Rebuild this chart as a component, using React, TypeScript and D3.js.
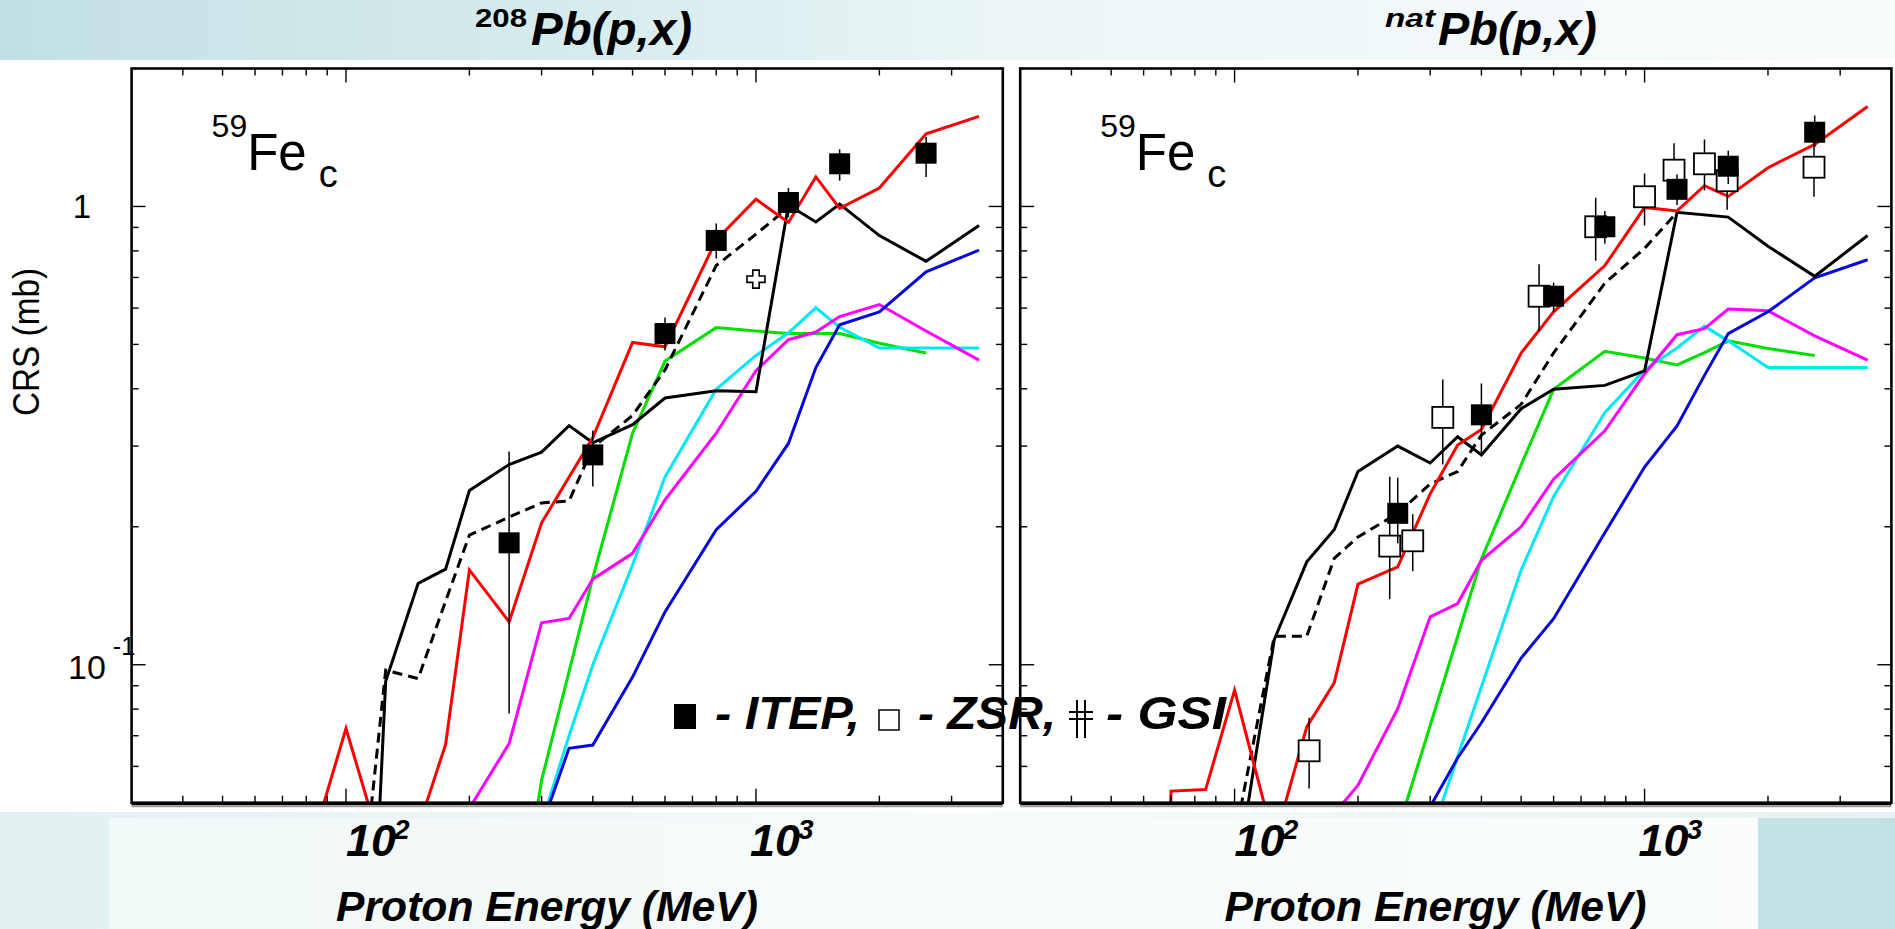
import React from 'react';
import * as d3 from 'd3';

// ---------------- data ----------------
const MODEL_E = [60, 70, 80, 85, 100, 125, 150, 175, 200, 250, 300, 350, 400, 500, 600, 800, 1000, 1200, 1400, 1600, 2000, 2600, 3500];

// 208Pb(p,x) model curves (null = not computed at that energy)
const RED_L = [null, null, 0.037, null, 0.0726, 0.037, 0.044, 0.067, 0.161, 0.124, 0.204, null, 0.313, 0.505, 0.494, 0.845, 1.037, 0.923, 1.16, 0.99, 1.097, 1.44, 1.573];
const BLACK_L = [null, null, null, null, 0.0014, 0.092, 0.1505, 0.1617, 0.24, 0.2735, 0.291, 0.3325, 0.305, 0.334, 0.382, 0.396, 0.394, 1.007, 0.925, 1.012, 0.864, 0.759, 0.909];
const DASHED_L = [null, null, null, null, 0.0148, 0.0973, 0.0933, 0.1377, 0.1918, 0.21, 0.2255, 0.2276, 0.298, 0.35, 0.44, 0.743, 0.87, 0.995, null, null, null, null, null];
const GREEN_L = [null, null, null, null, null, null, null, null, null, 0.02, 0.056, null, 0.155, 0.32, 0.46, 0.544, 0.535, 0.528, 0.528, 0.528, 0.503, 0.479, null];
const CYAN_L = [null, null, null, null, null, null, null, null, null, null, 0.045, 0.07, 0.1, 0.165, 0.257, 0.399, 0.473, 0.53, 0.601, 0.545, 0.491, 0.491, 0.491];
const MAGENTA_L = [null, null, null, null, null, null, null, null, 0.0486, 0.0673, 0.1235, 0.1262, 0.1537, 0.175, 0.229, 0.32, 0.438, 0.512, 0.532, 0.575, 0.611, 0.535, 0.462];
const BLUE_L = [null, null, null, null, null, null, null, null, null, null, 0.0444, 0.0657, 0.0668, 0.094, 0.1304, 0.197, 0.239, 0.304, 0.445, 0.552, 0.589, 0.72, 0.803];

// natPb(p,x) model curves
const RED_R = [0.001, 0.053, null, 0.0534, 0.088, 0.041, 0.0732, 0.0913, 0.15, 0.1636, 0.236, 0.3015, 0.326, 0.479, 0.589, 0.743, 0.995, 0.978, 1.11, 1.052, 1.215, 1.366, 1.652];
const BLACK_R = [null, null, null, null, 0.0325, 0.1135, 0.1677, 0.197, 0.264, 0.3, 0.2755, 0.3145, 0.287, 0.362, 0.399, 0.407, 0.4375, 0.971, null, 0.948, 0.819, 0.704, 0.864];
const DASHED_R = [null, null, null, null, 0.0417, 0.1154, 0.1154, 0.1706, 0.19, 0.214, 0.248, 0.264, 0.317, 0.37, 0.479, 0.68, 0.81, 0.971, null, null, null, null, null];
const GREEN_R = [null, null, null, null, null, null, null, null, null, 0.0435, 0.0737, null, 0.17, 0.273, 0.399, 0.483, 0.467, 0.451, 0.48, 0.509, 0.49, 0.473, null];
const CYAN_R = [null, null, null, null, null, null, null, null, null, null, 0.0419, 0.063, 0.0895, 0.161, 0.233, 0.355, 0.44, 0.491, 0.548, 0.509, 0.445, 0.445, 0.445];
const MAGENTA_R = [null, null, null, null, null, null, null, 0.0473, 0.0546, 0.0802, 0.1272, 0.136, 0.169, 0.2, 0.254, 0.324, 0.431, 0.525, 0.541, 0.597, 0.592, 0.522, 0.462];
const BLUE_R = [null, null, null, null, null, null, null, null, null, null, 0.049, 0.0626, 0.0747, 0.1034, 0.126, 0.194, 0.27, 0.332, 0.428, 0.528, 0.589, 0.699, 0.765];

// experimental data
const ITEP_E = [250, 400, 600, 800, 1200, 1600, 2600];
const ITEP_L = [0.1845, 0.287, 0.528, 0.843, 1.02, 1.239, 1.307];
const ITEP_L_LO = [0.0783, 0.245, 0.485, 0.77, 0.948, 1.138, 1.16];
const ITEP_L_HI = [0.292, 0.3245, 0.5724, 0.918, 1.097, 1.333, 1.417];
const ITEP_R = [0.214, 0.351, 0.637, 0.903, 1.09, 1.224, 1.452];
const ITEP_R_LO = [0.184, 0.29, 0.589, 0.829, 1.007, 1.12, 1.349];
const ITEP_R_HI = [0.256, 0.411, 0.682, 0.978, 1.174, 1.323, 1.58];

const ZSR_E = [152, 239, 272, 322, 553, 760, 1000, 1180, 1400, 1590, 2590];
const ZSR_R = [0.0649, 0.1815, 0.1864, 0.3465, 0.637, 0.903, 1.05, 1.2, 1.239, 1.138, 1.218];
const ZSR_R_LO = [0.0537, 0.139, 0.16, 0.2735, 0.535, 0.761, 0.909, 1.084, 1.084, 0.983, 1.05];
const ZSR_R_HI = [0.0766, 0.2573, 0.213, 0.419, 0.748, 1.045, 1.18, 1.373, 1.4, 1.285, 1.383];

const GSI_E = [1000];
const GSI_L = [0.694];

const X_DOMAIN = [30, 4000];
const Y_DOMAIN = [0.05, 2];
const X_TICK_LABELS = ['10', '10'];
const X_TICK_EXP = ['2', '3'];
const TITLES = [{ pre: '208', main: 'Pb(p,x)' }, { pre: 'nat', main: 'Pb(p,x)' }];

// ---------------- layout ----------------
const W = 1895;
const H = 929;
const TOP = 68.5;
const BOTTOM = 802.7;
const PANEL_X = [[131.6, 1002.8], [1020.2, 1891.4]];
const FONT = "'Liberation Sans', Arial, Helvetica, sans-serif";

const COLORS = {
  red: '#ff0000',
  black: '#000000',
  green: '#00e000',
  cyan: '#00e8f0',
  magenta: '#ff00ff',
  blue: '#0808dc',
};

type Series = { vals: (number | null)[]; color: string; dash?: string };

function toPts(vals: (number | null)[]): [number, number][] {
  const out: [number, number][] = [];
  vals.forEach((v, i) => {
    if (v !== null) out.push([MODEL_E[i], v]);
  });
  return out;
}

function Panel(props: {
  idx: number;
  series: Series[];
  itep: number[];
  itepLo: number[];
  itepHi: number[];
  zsr?: { v: number[]; lo: number[]; hi: number[] };
  gsi?: number[];
}) {
  const [x0, x1] = PANEL_X[props.idx];
  const xs = d3.scaleLog().domain(X_DOMAIN).range([x0, x1]);
  const ys = d3.scaleLog().domain(Y_DOMAIN).range([BOTTOM, TOP]);
  const line = d3
    .line<[number, number]>()
    .x((d) => xs(d[0]))
    .y((d) => ys(d[1]));
  const clipId = `clip${props.idx}`;
  const xt = xs.ticks().filter((t) => t > X_DOMAIN[0] * 1.001 && t < X_DOMAIN[1] * 0.999);
  const yt = ys.ticks().filter((t) => t > Y_DOMAIN[0] * 1.001 && t < Y_DOMAIN[1] * 0.999);
  const isMajor = (t: number) => Math.abs(Math.log10(t) - Math.round(Math.log10(t))) < 1e-6;
  const MAJ = 14;
  const MIN = 7;
  const sq = 21;
  const osq = 21;
  return (
    <g>
      <defs>
        <clipPath id={clipId}>
          <rect x={x0} y={TOP} width={x1 - x0} height={BOTTOM - TOP} />
        </clipPath>
      </defs>
      <g clipPath={`url(#${clipId})`}>
        {props.series.map((s, i) => (
          <path
            key={i}
            d={line(toPts(s.vals)) || ''}
            fill="none"
            stroke={s.color}
            strokeWidth={3}
            strokeDasharray={s.dash}
            strokeLinejoin="miter"
          />
        ))}
        {props.zsr &&
          ZSR_E.map((e, i) => (
            <g key={'z' + i}>
              <line x1={xs(e)} x2={xs(e)} y1={ys(props.zsr!.lo[i])} y2={ys(props.zsr!.hi[i])} stroke="#000" strokeWidth={1.5} />
              <rect x={xs(e) - osq / 2} y={ys(props.zsr!.v[i]) - osq / 2} width={osq} height={osq} fill="#fff" stroke="#000" strokeWidth={1.8} />
            </g>
          ))}
        {ITEP_E.map((e, i) => (
          <g key={'i' + i}>
            <line x1={xs(e)} x2={xs(e)} y1={ys(props.itepLo[i])} y2={ys(props.itepHi[i])} stroke="#000" strokeWidth={1.5} />
            <rect x={xs(e) - sq / 2} y={ys(props.itep[i]) - sq / 2} width={sq} height={sq} fill="#000" />
          </g>
        ))}
        {props.gsi &&
          GSI_E.map((e, i) => {
            const cx = xs(e);
            const cy = ys(props.gsi![i]);
            const a = 9;
            const b = 3.2;
            const d = `M${cx - b},${cy - a}H${cx + b}V${cy - b}H${cx + a}V${cy + b}H${cx + b}V${cy + a}H${cx - b}V${cy + b}H${cx - a}V${cy - b}H${cx - b}Z`;
            return <path key={'g' + i} d={d} fill="#fff" stroke="#000" strokeWidth={1.6} />;
          })}
      </g>
      {/* ticks */}
      {xt.map((t, i) => {
        const L = isMajor(t) ? MAJ : MIN;
        return (
          <g key={'xt' + i} stroke="#000" strokeWidth={1.4}>
            <line x1={xs(t)} x2={xs(t)} y1={BOTTOM} y2={BOTTOM - L} />
            <line x1={xs(t)} x2={xs(t)} y1={TOP} y2={TOP + L} />
          </g>
        );
      })}
      {yt.map((t, i) => {
        const L = isMajor(t) ? MAJ : MIN;
        return (
          <g key={'yt' + i} stroke="#000" strokeWidth={1.4}>
            <line x1={x0} x2={x0 + L} y1={ys(t)} y2={ys(t)} />
            <line x1={x1} x2={x1 - L} y1={ys(t)} y2={ys(t)} />
          </g>
        );
      })}
      <rect x={x0} y={TOP} width={x1 - x0} height={BOTTOM - TOP} fill="none" stroke="#000" strokeWidth={2.6} />
      <line x1={x0} x2={x1} y1={BOTTOM + 1} y2={BOTTOM + 1} stroke="#000" strokeWidth={3} />
      <line x1={x0} x2={x1} y1={BOTTOM + 3.5} y2={BOTTOM + 3.5} stroke="#999" strokeWidth={2} />
      {/* 59Fe c label */}
      <text fontFamily={FONT} fill="#000" x={x0 + 80} y={170}>
        <tspan fontSize={32} dy={-33}>59</tspan>
        <tspan fontSize={51} dy={33}>Fe</tspan>
        <tspan fontSize={38} dx={12} dy={17}>c</tspan>
      </text>
    </g>
  );
}

export default function App() {
  const leftSeries: Series[] = [
    { vals: GREEN_L, color: COLORS.green },
    { vals: CYAN_L, color: COLORS.cyan },
    { vals: MAGENTA_L, color: COLORS.magenta },
    { vals: BLUE_L, color: COLORS.blue },
    { vals: DASHED_L, color: COLORS.black, dash: '10,6' },
    { vals: BLACK_L, color: COLORS.black },
    { vals: RED_L, color: COLORS.red },
  ];
  const rightSeries: Series[] = [
    { vals: GREEN_R, color: COLORS.green },
    { vals: CYAN_R, color: COLORS.cyan },
    { vals: MAGENTA_R, color: COLORS.magenta },
    { vals: BLUE_R, color: COLORS.blue },
    { vals: DASHED_R, color: COLORS.black, dash: '10,6' },
    { vals: BLACK_R, color: COLORS.black },
    { vals: RED_R, color: COLORS.red },
  ];
  const bi = { fontFamily: FONT, fontWeight: 700, fontStyle: 'italic' as const };
  return (
    <svg width={W} height={H} viewBox={`0 0 ${W} ${H}`} style={{ position: 'absolute', left: 0, top: 0, background: '#fff' }}>
      <defs>
        <linearGradient id="topband" x1="0" x2="1" y1="0" y2="0">
          <stop offset="0" stopColor="#c2e0e3" />
          <stop offset="0.3" stopColor="#d6ebed" />
          <stop offset="0.55" stopColor="#edf6f7" />
          <stop offset="1" stopColor="#f8fbfc" />
        </linearGradient>
        <linearGradient id="botband" x1="0" x2="1" y1="0" y2="0">
          <stop offset="0" stopColor="#e2f0f2" />
          <stop offset="0.5" stopColor="#f7fbfb" />
          <stop offset="1" stopColor="#e6f2f3" />
        </linearGradient>
        <linearGradient id="botinner" x1="0" x2="1" y1="0" y2="0">
          <stop offset="0" stopColor="#f1f8f8" />
          <stop offset="1" stopColor="#fafcfc" />
        </linearGradient>
      </defs>
      <rect x={0} y={0} width={W} height={H} fill="#fff" />
      <rect x={0} y={0} width={W} height={60} fill="url(#topband)" />
      <rect x={0} y={812} width={W} height={H - 812} fill="url(#botband)" />
      <rect x={109} y={818} width={1758 - 109} height={H - 818} fill="url(#botinner)" />
      <rect x={1758} y={818} width={W - 1758} height={H - 818} fill="#c4e2e4" />

      {/* titles */}
      <text x={475} y={27} fontSize={26} fontFamily={FONT} fontWeight={700} textLength={52} lengthAdjust="spacingAndGlyphs">{TITLES[0].pre}</text>
      <text x={531} y={45} fontSize={46} {...bi} textLength={161} lengthAdjust="spacingAndGlyphs">{TITLES[0].main}</text>
      <text x={1385} y={27} fontSize={26} {...bi} textLength={50} lengthAdjust="spacingAndGlyphs">{TITLES[1].pre}</text>
      <text x={1438} y={45} fontSize={46} {...bi} textLength={159} lengthAdjust="spacingAndGlyphs">{TITLES[1].main}</text>

      <Panel idx={0} series={leftSeries} itep={ITEP_L} itepLo={ITEP_L_LO} itepHi={ITEP_L_HI} gsi={GSI_L} />
      <Panel idx={1} series={rightSeries} itep={ITEP_R} itepLo={ITEP_R_LO} itepHi={ITEP_R_HI} zsr={{ v: ZSR_R, lo: ZSR_R_LO, hi: ZSR_R_HI }} />

      {/* y axis labels */}
      <g fontFamily={FONT} fill="#000">
        <text x={91} y={218} fontSize={33} textAnchor="end">1</text>
        <text x={68} y={679} fontSize={34}>
          <tspan>10</tspan>
          <tspan fontSize={25} dx={7} dy={-24}>-1</tspan>
        </text>
        <text transform="translate(39,342) rotate(-90)" fontSize={37} textAnchor="middle" textLength={148} lengthAdjust="spacingAndGlyphs">CRS (mb)</text>
      </g>

      {/* x axis labels */}
      {[0, 1].map((p) => {
        const off = p === 0 ? 0 : 888.6;
        return (
          <g key={'xl' + p} fill="#000">
            <text x={346 + off} y={856} fontSize={45} {...bi}>
              <tspan>{X_TICK_LABELS[0]}</tspan>
              <tspan fontSize={28} dy={-17} dx={-2}>{X_TICK_EXP[0]}</tspan>
            </text>
            <text x={750 + off} y={856} fontSize={45} {...bi}>
              <tspan>{X_TICK_LABELS[1]}</tspan>
              <tspan fontSize={28} dy={-17} dx={-2}>{X_TICK_EXP[1]}</tspan>
            </text>
            <text x={336 + off} y={921} fontSize={42} {...bi} textLength={422} lengthAdjust="spacingAndGlyphs">Proton Energy (MeV)</text>
          </g>
        );
      })}

      {/* legend */}
      <g fill="#000">
        <rect x={674} y={704} width={22} height={25} fill="#000" />
        <text x={715} y={729} fontSize={46} {...bi} textLength={145} lengthAdjust="spacingAndGlyphs">- ITEP,</text>
        <rect x={879} y={710} width={20} height={20} fill="#fff" stroke="#000" strokeWidth={1.5} />
        <text x={918} y={729} fontSize={46} {...bi} textLength={138} lengthAdjust="spacingAndGlyphs">- ZSR,</text>
        <g stroke="#000" strokeWidth={2}>
          <line x1={1077} x2={1077} y1={700} y2={738} />
          <line x1={1085} x2={1085} y1={700} y2={738} />
          <line x1={1069} x2={1093} y1={712} y2={712} />
          <line x1={1069} x2={1093} y1={719} y2={719} />
        </g>
        <text x={1106} y={729} fontSize={46} {...bi} textLength={120} lengthAdjust="spacingAndGlyphs">- GSI</text>
      </g>
    </svg>
  );
}
